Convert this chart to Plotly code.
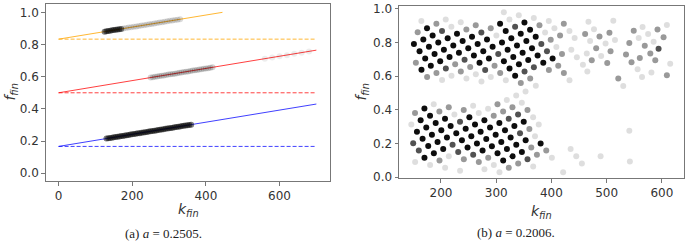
import plotly.graph_objects as go

W, H = 685, 246

# ---------------- panel (a) data ----------------
line_k = [0, 700]
blue_line_f = [0.1667, 0.430]
red_line_f = [0.5, 0.765]
orange_line_k = [0, 445]
orange_line_f = [0.8333, 1.0]
dash_k = [0, 700]
dash_levels = [0.1667, 0.5, 0.8333]

blue_pts_k = [130, 135, 140, 145, 150, 155, 160, 165, 170, 175, 180, 185, 190, 195, 200, 205,
              210, 215, 220, 225, 230, 235, 240, 245, 250, 255, 260, 265, 270, 275, 280, 285,
              290, 295, 300, 305, 310, 315, 320, 325, 330, 335, 340, 345, 350, 355, 360]
blue_pts_f = [.216, .218, .219, .221, .223, .225, .227, .229, .231, .232, .234, .236, .238, .240,
              .242, .244, .246, .248, .249, .251, .253, .255, .257, .259, .261, .263, .264, .266,
              .268, .270, .272, .274, .276, .278, .280, .281, .283, .285, .287, .289, .291, .293,
              .295, .296, .298, .300, .302]

red_pts_k = [250, 256, 262, 268, 274, 280, 286, 292, 298, 304, 310, 316, 322, 328, 334, 340,
             346, 352, 358, 364, 370, 376, 382, 388, 394, 400, 406, 412, 418]
red_pts_f = [.595, .597, .599, .601, .604, .606, .608, .610, .613, .615, .617, .619, .622, .624,
             .626, .629, .631, .633, .635, .638, .640, .642, .644, .647, .649, .651, .653, .656, .658]
red_faint_k = [560, 580, 600, 620, 640, 660, 680]
red_faint_f = [.712, .719, .727, .734, .742, .749, .757]

orange_dark_k = [125, 130, 135, 140, 145, 150, 155, 160, 165, 170]
orange_dark_f = [.880, .882, .884, .886, .888, .890, .891, .893, .895, .897]
orange_grey_k = [176, 183, 190, 197, 204, 211, 218, 225, 232, 239, 246, 253, 260, 267, 274, 281,
                 288, 295, 302, 309, 316, 323, 330]
orange_grey_f = [.899, .902, .905, .907, .910, .912, .915, .918, .920, .923, .926, .928, .931, .933,
                 .936, .939, .941, .944, .947, .949, .952, .954, .957]

# ---------------- panel (b) data ----------------
upper_k = [164.5,
           157.8, 174.7, 191.7, 208.6,
           151.0, 168.0, 184.9, 201.9, 218.8, 235.8,
           161.2, 178.2, 195.1, 212.1, 229.0, 246.0, 262.9, 313.8,
           154.5, 171.4, 188.4, 205.3, 222.3, 239.2, 256.2, 273.1, 290.1, 307.0, 324.0, 340.9,
           164.7, 181.6, 198.6, 215.5, 232.5, 249.4, 266.4, 283.3, 300.3, 317.2, 334.2, 351.1, 368.1,
           174.9, 191.8, 208.8, 225.7, 242.7, 259.6, 276.6, 293.5, 310.5, 327.4, 344.4, 361.3, 378.3, 395.2,
           202.0, 219.0, 235.9, 252.9, 269.8, 286.8, 303.7, 320.7, 337.6, 354.6, 371.5, 388.5, 405.4, 422.4,
           246.1, 263.1, 280.0, 297.0, 313.9, 330.9, 347.8, 364.8, 381.7, 398.7, 415.6, 432.6,
           273.3, 290.2, 307.2, 324.1, 341.1, 358.0, 375.0, 391.9, 408.9,
           317.4, 334.3, 351.3, 368.2, 385.2, 402.1, 419.1, 436.0,
           344.5, 361.5, 395.4, 412.3,
           371.7, 422.5,
           432.7]
upper_f = [.929,
           .861, .886, .912, .938,
           .792, .818, .843, .869, .895, .921,
           .749, .775, .801, .826, .852, .878, .903, .980,
           .681, .706, .732, .758, .783, .809, .835, .860, .886, .912, .938, .963,
           .638, .663, .689, .715, .740, .766, .792, .818, .843, .869, .895, .920, .946,
           .595, .620, .646, .672, .698, .723, .749, .775, .800, .826, .852, .877, .903, .929,
           .578, .603, .629, .655, .680, .706, .732, .757, .783, .809, .835, .860, .886, .912,
           .586, .612, .637, .663, .689, .715, .740, .766, .792, .817, .843, .869,
           .569, .595, .620, .646, .672, .697, .723, .749, .774,
           .577, .603, .629, .654, .680, .706, .732, .757,
           .560, .586, .637, .663,
           .543, .620,
           .577]
upper_shade = list("L"
                   "GBGL"
                   "BBBDLL"
                   "BBBBBGGL"
                   "GBBBBBBDGBLL"
                   "BBBBBBBBLBDBL"
                   "GGDGDBBBBBBBGL"
                   "LLGGBBDBBBBLLG"
                   "LLDGBBBBDGGL"
                   "LLGBBBBDL"
                   "LBDDBBGL"
                   "GGGG"
                   "LG"
                   "L")

lower_k = [153.0, 170.0, 186.9,
           146.3, 163.2, 180.2, 197.1, 214.1,
           156.5, 173.4, 190.4, 207.3, 224.3, 241.2, 258.2,
           149.7, 166.7, 183.6, 200.6, 217.5, 234.5, 251.4, 268.4, 285.3, 302.3, 319.2, 336.2, 353.1,
           159.9, 176.9, 193.8, 210.8, 227.7, 244.7, 261.6, 278.6, 295.5, 312.5, 329.4, 346.4,
           153.2, 170.1, 187.1, 204.0, 221.0, 237.9, 254.9, 271.8, 288.8, 305.7, 322.7, 339.6, 356.6,
           180.3, 197.3, 214.2, 231.2, 248.1, 265.1, 282.0, 299.0, 315.9, 332.9, 349.8, 366.8,
           207.5, 241.4, 258.3, 275.3, 292.2, 309.2, 326.1, 343.1, 360.0, 377.0,
           234.6, 268.5, 285.5, 302.4, 319.4, 336.3, 353.3, 370.2,
           278.7, 295.7, 312.6, 329.6, 346.5, 363.5, 380.4,
           305.9, 322.8, 339.8, 356.7, 373.7, 390.6,
           366.9, 400.8, 434.7,
           444.9,
           421.2, 455.1]
lower_f = [.382, .408, .433,
           .313, .339, .365, .390, .416,
           .270, .296, .322, .348, .373, .399, .425,
           .202, .228, .253, .279, .305, .330, .356, .382, .407, .433, .459, .485, .510,
           .159, .185, .210, .236, .262, .288, .313, .339, .365, .390, .416, .442,
           .090, .116, .142, .167, .193, .219, .244, .270, .296, .322, .347, .373, .399,
           .073, .099, .125, .150, .176, .201, .227, .253, .279, .304, .330, .356,
           .056, .107, .133, .159, .184, .210, .236, .262, .287, .313,
           .039, .090, .116, .142, .167, .193, .219, .244,
           .047, .073, .099, .124, .150, .176, .201,
           .030, .056, .081, .107, .133, .159,
           .064, .116, .167,
           .124,
           .030, .081]
lower_shade = list("GBL"
                   "LBBGG"
                   "BBBBLGL"
                   "DBBBBDBLLGLLL"
                   "DBBBBBBBGGGL"
                   "LBBBDBBBBBDDG"
                   "LGLDBBBBBBBL"
                   "LGDBBBBDGL"
                   "LGGBBBBL"
                   "LLBBBGB"
                   "LGGDGG"
                   "LLL"
                   "L"
                   "LL")

sparse_k = [467, 512, 461, 477, 487, 505, 549, 565, 575, 592, 609, 603,
            442, 470, 498, 515, 541, 558, 569, 585, 594,
            446, 464, 481, 490, 507, 535, 560, 579, 588, 615,
            473, 501, 545, 556, 564, 581, 609,
            457, 465, 521, 530,
            489, 541, 542]
sparse_f = [.924, .930, .851, .880, .836, .858, .870, .893, .851, .878, .904, .832,
            .828, .809, .794, .815, .798, .828, .782, .805, .763,
            .713, .736, .767, .721, .748, .729, .709, .736, .695, .675,
            .695, .679, .683, .641, .595, .622, .606,
            .668, .629, .587, .542,
            .125, .276, .093]
sparse_shade = list("LLGLGGGLLGLG"
                    "LLLLGLGLD"
                    "LLGLGGGGGL"
                    "GGGLLLG"
                    "LLGL"
                    "LLL")

# ---------------- styling ----------------
SHADE_ALPHA = {"B": 0.95, "D": 0.68, "G": 0.40, "L": 0.13}
TICK_FONT = dict(family="DejaVu Sans", size=12, color="#333333")
AXIS_COLOR = "#777777"


def px_x(x):
    return x / W


def px_y(y):
    return 1 - y / H


fig = go.Figure()

# panel (a) lines (drawn under the points)
for fk, ff, col in [(line_k, blue_line_f, "rgba(0,0,255,0.75)"),
                    (line_k, red_line_f, "rgba(255,0,0,0.75)"),
                    (orange_line_k, orange_line_f, "rgba(255,165,0,0.8)")]:
    fig.add_trace(go.Scatter(x=fk, y=ff, mode="lines", xaxis="x", yaxis="y",
                             line=dict(color=col, width=1), showlegend=False, hoverinfo="skip"))
for lvl, col in zip(dash_levels, ["rgba(0,0,255,0.75)", "rgba(255,0,0,0.75)", "rgba(255,165,0,0.8)"]):
    fig.add_trace(go.Scatter(x=dash_k, y=[lvl, lvl], mode="lines", xaxis="x", yaxis="y",
                             line=dict(color=col, width=1, dash="4px,2px"),
                             showlegend=False, hoverinfo="skip"))

# panel (a) scatter blobs
for xs, ys, a in [(blue_pts_k, blue_pts_f, 0.5), (red_pts_k, red_pts_f, 0.17),
                  (red_faint_k, red_faint_f, 0.07), (orange_dark_k, orange_dark_f, 0.5),
                  (orange_grey_k, orange_grey_f, 0.14)]:
    fig.add_trace(go.Scatter(x=xs, y=ys, mode="markers", xaxis="x", yaxis="y",
                             marker=dict(size=6, color="rgba(0,0,0,%.2f)" % a, line=dict(width=0)),
                             showlegend=False, hoverinfo="skip"))

# panel (b) points
for ks, fs, ss in [(upper_k, upper_f, upper_shade),
                   (lower_k, lower_f, lower_shade),
                   (sparse_k, sparse_f, sparse_shade)]:
    cols = ["rgba(0,0,0,%.2f)" % SHADE_ALPHA[s] for s in ss]
    fig.add_trace(go.Scatter(x=ks, y=fs, mode="markers", xaxis="x2", yaxis="y2",
                             marker=dict(size=6, color=cols, line=dict(width=0)),
                             showlegend=False, hoverinfo="skip"))

axis_common = dict(showline=True, linecolor=AXIS_COLOR, linewidth=1, mirror=True,
                   ticks="outside", ticklen=3.5, tickwidth=1, tickcolor=AXIS_COLOR,
                   showgrid=False, zeroline=False, tickfont=TICK_FONT,
                   ticklabeloverflow="allow")

fig.update_layout(
    width=W, height=H, margin=dict(l=0, r=0, t=0, b=0),
    paper_bgcolor="white", plot_bgcolor="white",
    xaxis=dict(domain=[px_x(45.7), px_x(330)], range=[-35, 737],
               tickvals=[0, 200, 400, 600], anchor="y", **axis_common),
    yaxis=dict(domain=[px_y(185), px_y(1)], range=[-0.0497, 1.052],
               tickvals=[0, 0.2, 0.4, 0.6, 0.8, 1.0], tickformat=".1f", anchor="x", **axis_common),
    xaxis2=dict(domain=[px_x(399), px_x(684)], range=[124, 640],
                tickvals=[200, 300, 400, 500, 600], anchor="y2", **axis_common),
    yaxis2=dict(domain=[px_y(181.7), px_y(2.7)], range=[-0.005, 1.02],
                tickvals=[0, 0.2, 0.4, 0.6, 0.8, 1.0], tickformat=".1f", anchor="x2", **axis_common),
)

title_font = dict(family="DejaVu Sans", size=14, color="#333333")
cap_font = dict(family="Liberation Serif", size=13, color="#222222")
ann = [
    dict(x=px_x(11), y=px_y(93), text="<i>f</i><sub><i>fin</i></sub>", textangle=-90, font=title_font),
    dict(x=px_x(362), y=px_y(93), text="<i>f</i><sub><i>fin</i></sub>", textangle=-90, font=title_font),
    dict(x=px_x(188), y=px_y(215), text="<i>k</i><sub><i>fin</i></sub>", font=title_font),
    dict(x=px_x(541.5), y=px_y(216.5), text="<i>k</i><sub><i>fin</i></sub>", font=title_font),
    dict(x=px_x(163), y=px_y(239), text="(a) <i>a</i> = 0.2505.", font=cap_font),
    dict(x=px_x(516), y=px_y(238), text="(b) <i>a</i> = 0.2006.", font=cap_font),
]
for a in ann:
    a.update(xref="paper", yref="paper", showarrow=False, xanchor="center", yanchor="middle")
fig.update_layout(annotations=ann)

fig.write_html("out.html", config={"displayModeBar": False, "staticPlot": True},
               post_script="document.body.style.margin='0px';")
